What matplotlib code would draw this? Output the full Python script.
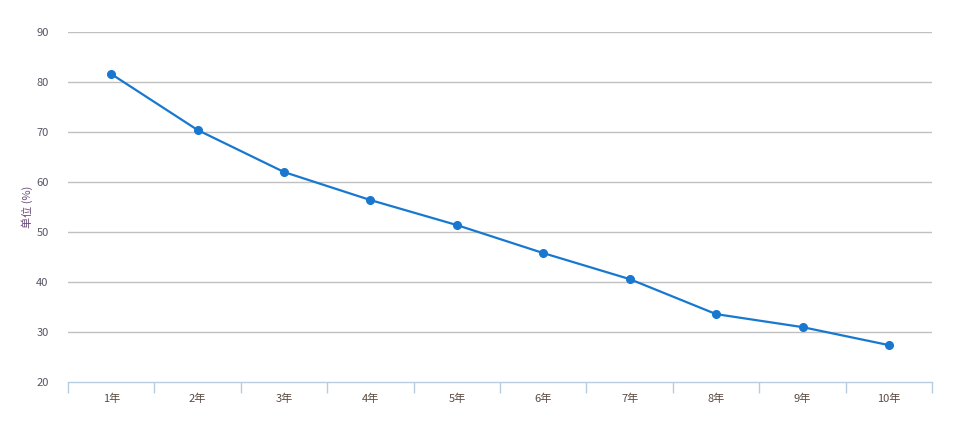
import numpy as np
import matplotlib
matplotlib.use("Agg")
import matplotlib.pyplot as plt

plt.rcParams['font.family'] = ['Noto Sans CJK SC', 'DejaVu Sans']

years = ['1年', '2年', '3年', '4年', '5年', '6年', '7年', '8年', '9年', '10年']
values = [81.6, 70.4, 62.0, 56.4, 51.4, 45.8, 40.6, 33.6, 31.0, 27.4]

fig = plt.figure(figsize=(9.58, 4.48), dpi=100)
ax = fig.add_axes([0.071, 0.147, 0.902, 0.7816])

x = np.arange(len(years))
ax.plot(x, values, color='#1878d0', lw=1.6, marker='o', ms=5.5, zorder=3)

ax.set_xlim(-0.5, len(years) - 0.5)
ax.set_ylim(20, 90)
ax.set_yticks(range(20, 91, 10))
for yv in range(30, 91, 10):
    ax.axhline(yv, color='#c0c0c0', lw=1, zorder=1)

# category labels centered, ticks on boundaries
ax.set_xticks(x)
ax.set_xticklabels(years, fontsize=8, color='#5c4a3e')
ax.tick_params(axis='x', length=0, pad=8)
ax.set_xticks(np.arange(-0.5, len(years), 1), minor=True)
ax.tick_params(axis='x', which='minor', length=8, color='#b8cce0', width=1)
ax.tick_params(axis='y', length=0, labelsize=8, labelcolor='#555566', pad=14)

for s in ['top', 'right', 'left']:
    ax.spines[s].set_visible(False)
ax.spines['bottom'].set_color('#b8cce0')
ax.spines['bottom'].set_linewidth(1)

ax.set_ylabel('单位 (%)', fontsize=8, color='#6a4a7a', labelpad=2)

fig.savefig('out.png', dpi=100)
